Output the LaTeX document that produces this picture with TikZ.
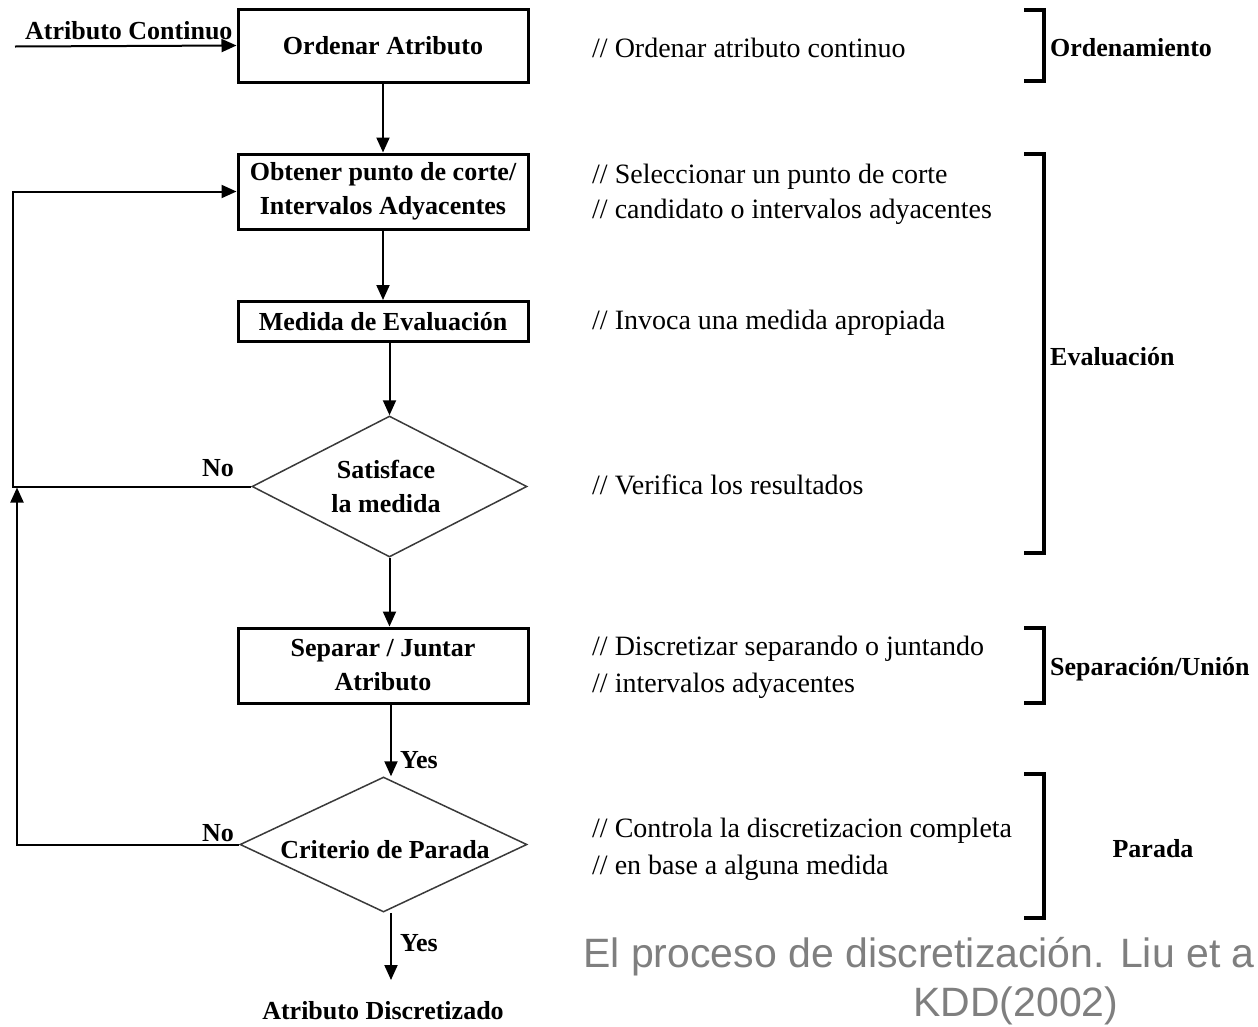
\documentclass[tikz,border=0pt]{standalone}
\usepackage{fontspec}
\setmainfont{Liberation Serif}
\newfontfamily\capfont{Liberation Sans}
\usetikzlibrary{arrows.meta,shapes.geometric}
\definecolor{capgray}{HTML}{7F7F7F}
\definecolor{diagray}{HTML}{3A3A3A}
\newcommand\blfont{\fontsize{26}{34}\selectfont\bfseries}
\newcommand\cmfont{\fontsize{28}{34}\selectfont}
\tikzset{
  box/.style={draw, line width=3pt, minimum width=290pt, inner sep=0pt, align=center, font=\blfont},
  dia/.style={draw=diagray, line width=1.5pt, diamond, inner sep=0pt},
  lbl/.style={font=\blfont, inner sep=0pt, align=center},
  cmt/.style={font=\cmfont, anchor=west, inner sep=0pt},
  conn/.style={line width=2pt},
  arr/.style={conn, -{Triangle[length=15pt,width=13pt]}},
  brk/.style={line width=4pt, line join=miter}
}
\begin{document}
\begin{tikzpicture}[x=1pt,y=-1pt]
\useasboundingbox (0,0) rectangle (1258,1026);
\fill[white] (0,0) rectangle (1258,1026);

% boxes
\node[box, minimum height=73pt] (b1) at (383,45.5) {Ordenar Atributo};
\node[box, minimum height=75pt] (b2) at (383,191.5) {Obtener punto de corte/\\Intervalos Adyacentes};
\node[box, minimum height=40pt] (b3) at (383,321.5) {Medida de Evaluación};
\node[box, minimum height=75pt] (b4) at (383,665.5) {Separar / Juntar\\Atributo};

% diamonds
\node[dia, minimum width=275pt, minimum height=141pt] (d1) at (389.5,486.5) {};
\node[lbl] (d1t) at (386,486) {Satisface\\la medida};
\node[dia, minimum width=287pt, minimum height=135pt] (d2) at (383.5,844.5) {};
\node[lbl] (d2t) at (385,850) {Criterio de Parada};

% coordinates
\coordinate (in) at (15,46.5);
\coordinate (out) at (391,980);
\coordinate (lx1) at (13,0);
\coordinate (lx2) at (17,0);

% connectors
\draw[arr] (in) -- (b1.west);
\node[lbl, anchor=base west] (inl) at (25,39) {Atributo Continuo};
\draw[arr] (b1.south) -- (b2.north);
\draw[arr] (b2.south) -- (b3.north);
\draw[arr] (b3.south -| d1.north) -- (d1.north);
\draw[arr] (d1.south) -- (b4.north -| d1.south);
\draw[arr] (b4.south -| out) -- (d2.north -| out);
\draw[arr] (d2.south -| out) -- (out);
\draw[arr] (d1.west) -- (d1.west -| lx1) -- (b2.west -| lx1) -- (b2.west);
\draw[arr] (d2.west) -- (d2.west -| lx2) -- ([yshift=-1pt]d1.west -| lx2);

% edge labels
\node[lbl] (no1) at (218,468) {No};
\node[lbl] (no2) at (218,833) {No};
\node[lbl] (yes1) at (419,760) {Yes};
\node[lbl] (yes2) at (419,943) {Yes};
\node[lbl] (outl) at (383,1011) {Atributo Discretizado};

% comments
\node[cmt] (c1) at (592,48) {// Ordenar atributo continuo};
\node[cmt] (c2) at (592,177) {// Seleccionar un punto de corte};
\node[cmt] (c3) at (592,212) {// candidato o intervalos adyacentes};
\node[cmt] (c4) at (592,323) {// Invoca una medida apropiada};
\node[cmt] (c5) at (592,485) {// Verifica los resultados};
\node[cmt] (c6) at (592,649) {// Discretizar separando o juntando};
\node[cmt] (c7) at (592,686) {// intervalos adyacentes};
\node[cmt] (c8) at (592,831) {// Controla la discretizacion completa};
\node[cmt] (c9) at (592,868) {// en base a alguna medida};

% brackets
\draw[brk] (1024,10) -- (1044,10) -- (1044,81) -- (1024,81);
\draw[brk] (1024,154) -- (1044,154) -- (1044,553) -- (1024,553);
\draw[brk] (1024,628) -- (1044,628) -- (1044,703) -- (1024,703);
\draw[brk] (1024,774) -- (1044,774) -- (1044,918) -- (1024,918);
\node[lbl, anchor=west] (g1) at (1050,48) {Ordenamiento};
\node[lbl, anchor=west] (g2) at (1050,357) {Evaluación};
\node[lbl, anchor=west] (g3) at (1050,669) {Separación/Unión};
\node[lbl] (g4) at (1153,849) {Parada};

% caption
\node[font=\capfont\fontsize{41}{50}\selectfont, text=capgray, anchor=base west, inner sep=0pt] (cap1) at (583,967) {El proceso de discretización. Liu et a};
\node[font=\capfont\fontsize{41}{50}\selectfont, text=capgray, anchor=base west, inner sep=0pt] (cap2) at (913,1016) {KDD(2002)};
\end{tikzpicture}
\end{document}
